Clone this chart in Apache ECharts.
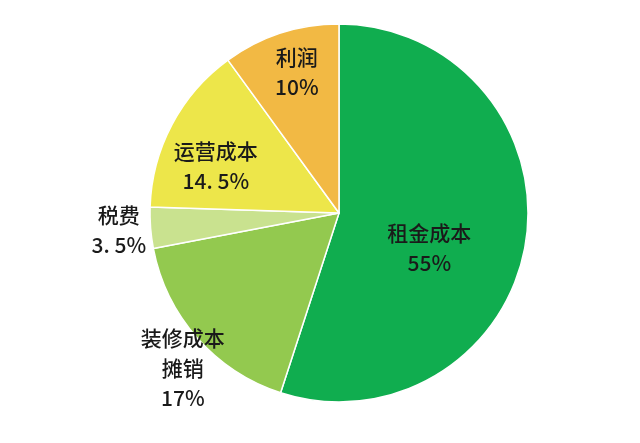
<!DOCTYPE html>
<html>
<head>
<meta charset="utf-8">
<script src="https://cdn.jsdelivr.net/npm/echarts@6/dist/echarts.min.js"></script>
<style>html,body{margin:0;padding:0;background:#fff;}#c{width:640px;height:443px;}</style>
</head>
<body>
<div id="c"></div>
<script>
var categories = ['租金成本', '装修成本\n摊销', '税费', '运营成本', '利润'];
var values = [55, 17, 3.5, 14.5, 10];
var valueLabels = ['55%', '17%', '3. 5%', '14. 5%', '10%'];
var colors = ['#10ad4f', '#93c94f', '#c9e28f', '#ede64a', '#f2b944'];
var labelOffsets = [[-6, 20], [-83, 91], [-123, 9], [-37, -1], [-12, -48]];

var data = categories.map(function (c, i) {
  return {
    name: c,
    value: values[i],
    itemStyle: { color: colors[i] },
    label: { offset: labelOffsets[i] }
  };
});

var chart = echarts.init(document.getElementById('c'));
chart.setOption({
  animation: false,
  series: [{
    type: 'pie',
    center: [339, 213],
    radius: [0, 189],
    startAngle: 90,
    clockwise: true,
    avoidLabelOverlap: false,
    itemStyle: { borderColor: '#ffffff', borderWidth: 1.5 },
    label: {
      show: true,
      position: 'inside',
      color: '#1a1a1a',
      fontSize: 21,
      fontWeight: 500,
      lineHeight: 30,
      fontFamily: 'Noto Sans CJK SC',
      align: 'center',
      formatter: function (p) { return p.name + '\n' + valueLabels[p.dataIndex]; }
    },
    labelLine: { show: false },
    emphasis: { disabled: true },
    data: data
  }]
});
</script>
</body>
</html>
